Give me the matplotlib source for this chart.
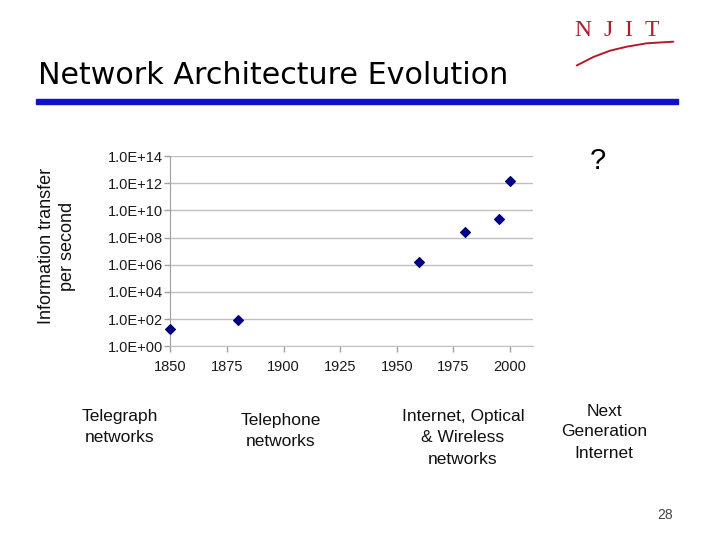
import matplotlib
matplotlib.use("Agg")
import matplotlib.pyplot as plt
from matplotlib.lines import Line2D
from matplotlib.patches import Rectangle
import numpy as np

# ---- data ----
years = [1850, 1880, 1960, 1980, 1995, 2000]
rates = [2e1, 9e1, 1.5e6, 2.5e8, 2.2e9, 1.5e12]
ytick_vals = [1e0, 1e2, 1e4, 1e6, 1e8, 1e10, 1e12, 1e14]
ytick_labels = ["1.0E+00", "1.0E+02", "1.0E+04", "1.0E+06", "1.0E+08", "1.0E+10", "1.0E+12", "1.0E+14"]
xtick_vals = [1850, 1875, 1900, 1925, 1950, 1975, 2000]
era_labels = ["Telegraph\nnetworks", "Telephone\nnetworks",
              "Internet, Optical\n& Wireless\nnetworks", "Next\nGeneration\nInternet"]
title = "Network Architecture Evolution"
ylabel = "Information transfer\nper second"

W, H = 720, 540
fig = plt.figure(figsize=(7.2, 5.4), dpi=100)
fig.patch.set_facecolor("white")

def fx(x): return x / W
def fy(y): return 1 - y / H

SANS = "Liberation Sans"

# axes
left, right, top, bottom = 170.3, 532.7, 156, 346.3
ax = fig.add_axes([fx(left), fy(bottom), fx(right) - fx(left), (bottom - top) / H])
ax.set_yscale("log")
ax.set_xlim(1850, 2010)
ax.set_ylim(1e0, 1e14)
ax.scatter(years, rates, marker="D", s=24, color="#000080", zorder=3, clip_on=False)
ax.set_yticks(ytick_vals)
ax.set_yticklabels(ytick_labels)
ax.yaxis.set_minor_locator(matplotlib.ticker.NullLocator())
ax.set_xticks(xtick_vals)
ax.set_xticklabels([str(v) for v in xtick_vals])
ax.grid(axis="y", color="#c0c0c0", linewidth=1.0)
ax.set_axisbelow(True)
for s in ["top", "right"]:
    ax.spines[s].set_visible(False)
ax.spines["left"].set_color("#a0a0a0")
ax.spines["bottom"].set_color("#c0c0c0")
ax.tick_params(axis="both", direction="out", length=4, width=1, color="#a0a0a0",
               labelsize=10.5, labelcolor="#1a1a1a")
ax.tick_params(axis="y", pad=1)
ax.tick_params(axis="x", pad=6)
for lab in ax.get_xticklabels() + ax.get_yticklabels():
    lab.set_fontfamily(SANS)

# y label
fig.text(fx(57), fy(246), ylabel, rotation=90, ha="center", va="center",
         fontsize=13, family=SANS, color="#111111", linespacing=1.3)

# title
fig.text(fx(38), fy(75), title, ha="left", va="center", fontsize=21.7,
         family="DejaVu Sans", color="black")

# blue rule
fig.patches.append(Rectangle((fx(36), fy(104)), fx(678) - fx(36), 5 / H,
                             transform=fig.transFigure, color="#1111cc", zorder=2))

# era labels
era_pos = [(120, 427), (281, 431), (463, 438), (604, 432)]
for (x, y), t in zip(era_pos, era_labels):
    fig.text(fx(x), fy(y), t, ha="center", va="center", fontsize=12.5,
             family=SANS, color="#111111", linespacing=1.5)

fig.text(fx(598), fy(161), "?", ha="center", va="center", fontsize=21,
         family=SANS, color="black")
fig.text(fx(665), fy(515), "28", ha="center", va="center", fontsize=10,
         family=SANS, color="#444444")

# NJIT logo
red = "#b01c2e"
for ch, x in zip("NJIT", [583, 608, 628, 652]):
    fig.text(fx(x), fy(30), ch, ha="center", va="center", fontsize=17,
             family="Liberation Serif", color=red)
sx = np.array([576.7, 593.3, 610, 626.7, 646.7, 673.3])
sy = np.array([65.5, 57.0, 50.7, 46.7, 43.3, 41.7])
fig.lines.append(Line2D(sx / W, 1 - sy / H, transform=fig.transFigure,
                        color=red, linewidth=1.4, solid_capstyle="round"))

fig.savefig("out.png", dpi=100)
